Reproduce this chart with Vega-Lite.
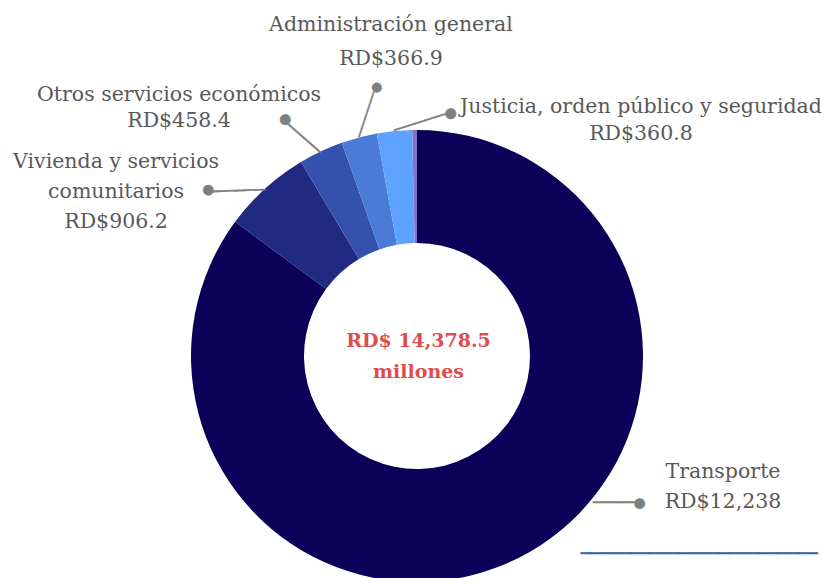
{
  "$schema": "https://vega.github.io/schema/vega-lite/v6.json",
  "autosize": {"type": "none"},
  "padding": {"left": 11, "top": 134, "right": 0, "bottom": 0},
  "width": 812,
  "height": 444,
  "background": "white",
  "config": {"view": {"stroke": null}},
  "data": {
    "values": [
      {"cat": "Transporte", "value": 12238},
      {"cat": "Vivienda y servicios comunitarios", "value": 906.2},
      {"cat": "Otros servicios económicos", "value": 458.4},
      {"cat": "Administración general", "value": 366.9},
      {"cat": "Justicia, orden público y seguridad", "value": 360.8},
      {"cat": "Resto", "value": 48.2}
    ]
  },
  "layer": [
    {
      "encoding": {
        "theta": {"field": "value", "type": "quantitative", "stack": true},
        "order": {"field": "value", "type": "quantitative", "sort": "descending"},
        "detail": {"field": "cat", "type": "nominal"}
      },
      "layer": [
        {
          "mark": {"type": "arc", "outerRadius": 226, "innerRadius": 113},
          "encoding": {
            "color": {
              "field": "cat", "type": "nominal", "legend": null,
              "scale": {
                "domain": ["Transporte", "Vivienda y servicios comunitarios", "Otros servicios económicos", "Administración general", "Justicia, orden público y seguridad", "Resto"],
                "range": ["#0B0158", "#1F2A80", "#3451AE", "#4A7BD6", "#5EA2FF", "#8272C8"]
              }
            }
          }
        },
        {
          "mark": {"type": "text", "radius": 226, "align": "left", "baseline": "middle", "font": "DejaVu Sans Mono", "fontSize": 16, "angle": 288.5, "fill": "#7F7F7F", "stroke": "#7F7F7F", "strokeWidth": 0.4},
          "encoding": {"text": {"condition": {"test": "datum.cat === 'Administración general'", "value": "─────●"}, "value": ""}}
        },
        {
          "mark": {"type": "text", "radius": 226, "align": "left", "baseline": "middle", "font": "DejaVu Sans Mono", "fontSize": 17.6, "angle": 221.2, "fill": "#7F7F7F", "stroke": "#7F7F7F", "strokeWidth": 0.4},
          "encoding": {"text": {"condition": {"test": "datum.cat === 'Otros servicios económicos'", "value": "────●"}, "value": ""}}
        },
        {
          "mark": {"type": "text", "radius": 226, "align": "left", "baseline": "middle", "font": "DejaVu Sans Mono", "fontSize": 17.2, "angle": 178, "fill": "#7F7F7F", "stroke": "#7F7F7F", "strokeWidth": 0.4},
          "encoding": {"text": {"condition": {"test": "datum.cat === 'Vivienda y servicios comunitarios'", "value": "─────●"}, "value": ""}}
        },
        {
          "mark": {"type": "text", "radius": 226, "align": "left", "baseline": "middle", "font": "DejaVu Sans Mono", "fontSize": 17.8, "angle": 342.4, "fill": "#7F7F7F", "stroke": "#7F7F7F", "strokeWidth": 0.4},
          "encoding": {"text": {"condition": {"test": "datum.cat === 'Justicia, orden público y seguridad'", "value": "─────●"}, "value": ""}}
        },
        {
          "mark": {"type": "text", "radius": 226, "align": "left", "baseline": "middle", "font": "DejaVu Sans Mono", "fontSize": 17.3, "dx": 74.1, "dy": -54.7, "fill": "#7F7F7F", "stroke": "#7F7F7F", "strokeWidth": 0.4},
          "encoding": {"text": {"condition": {"test": "datum.cat === 'Transporte'", "value": "────●"}, "value": ""}}
        },
        {
          "mark": {"type": "text", "radius": 226, "align": "left", "baseline": "middle", "font": "DejaVu Sans Mono", "fontSize": 16.4, "dx": 61.8, "dy": -3.6, "fill": "#3D66A6", "stroke": "#3D66A6", "strokeWidth": 0.6},
          "encoding": {"text": {"condition": {"test": "datum.cat === 'Transporte'", "value": "────────────────────────"}, "value": ""}}
        },
        {
          "mark": {"type": "text", "radius": 226, "align": "center", "baseline": "alphabetic", "font": "DejaVu Serif", "fontSize": 20.5, "fill": "#595959", "lineHeight": 34, "dx": 31.8, "dy": -107},
          "encoding": {"text": {"condition": {"test": "datum.cat === 'Administración general'", "value": ["Administración general", "RD$366.9"]}, "value": ""}}
        },
        {
          "mark": {"type": "text", "radius": 226, "align": "center", "baseline": "alphabetic", "font": "DejaVu Serif", "fontSize": 20.5, "fill": "#595959", "lineHeight": 26, "dx": -141.9, "dy": -50.4},
          "encoding": {"text": {"condition": {"test": "datum.cat === 'Otros servicios económicos'", "value": ["Otros servicios económicos", "RD$458.4"]}, "value": ""}}
        },
        {
          "mark": {"type": "text", "radius": 226, "align": "center", "baseline": "alphabetic", "font": "DejaVu Serif", "fontSize": 20.5, "fill": "#595959", "lineHeight": 30, "dx": -149, "dy": -20.7},
          "encoding": {"text": {"condition": {"test": "datum.cat === 'Vivienda y servicios comunitarios'", "value": ["Vivienda y servicios", "comunitarios", "RD$906.2"]}, "value": ""}}
        },
        {
          "mark": {"type": "text", "radius": 226, "align": "center", "baseline": "alphabetic", "font": "DejaVu Serif", "fontSize": 20.5, "fill": "#595959", "lineHeight": 27, "dx": 246.5, "dy": -17.8},
          "encoding": {"text": {"condition": {"test": "datum.cat === 'Justicia, orden público y seguridad'", "value": ["Justicia, orden público y seguridad", "RD$360.8"]}, "value": ""}}
        },
        {
          "mark": {"type": "text", "radius": 226, "align": "center", "baseline": "alphabetic", "font": "DejaVu Serif", "fontSize": 20.5, "fill": "#595959", "lineHeight": 30, "dx": 204.1, "dy": -79.7},
          "encoding": {"text": {"condition": {"test": "datum.cat === 'Transporte'", "value": ["Transporte", "RD$12,238"]}, "value": ""}}
        }
      ]
    },
    {
      "transform": [{"aggregate": [{"op": "sum", "field": "value", "as": "total"}]}],
      "mark": {"type": "text", "align": "center", "baseline": "alphabetic", "font": "DejaVu Serif", "fontSize": 19, "fontWeight": "bold", "fill": "#E04B4B", "lineHeight": 31.6, "dx": 1.5, "dy": -9.3},
      "encoding": {"text": {"value": ["RD$ 14,378.5", "millones"]}}
    }
  ]
}
